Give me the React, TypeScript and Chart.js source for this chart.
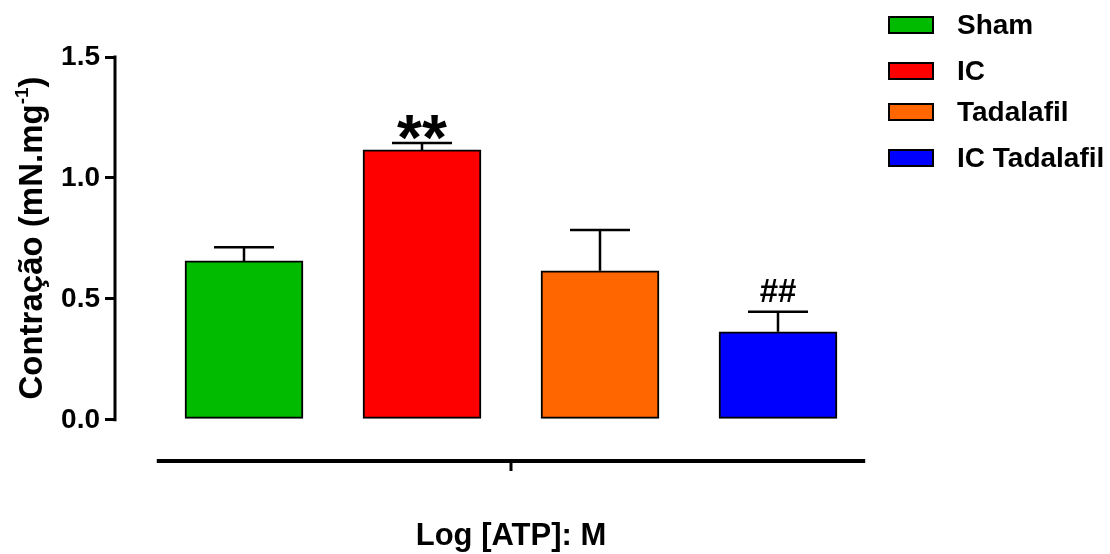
import React, { useEffect, useRef } from "react";
import { Chart, registerables } from "chart.js";

Chart.register(...registerables);

const categories = ["Sham", "IC", "Tadalafil", "IC Tadalafil"];
const means = [0.657, 1.116, 0.616, 0.364];
const sems = [0.057, 0.029, 0.169, 0.083];
const colors = ["#00BB00", "#FF0000", "#FF6600", "#0000FF"];
const annotations = ["", "**", "", "##"];
const yTicks = [0, 0.5, 1.0, 1.5];
const yTitle = "Contração (mN.mg";
const ySup = "-1";
const xTitle = "Log [ATP]: M";

const FONT = "'Liberation Sans', Arial, Helvetica, sans-serif";

const prismPlugin = {
  id: "prism",
  afterDatasetsDraw(chart: any) {
    const ctx = chart.ctx;
    const y = chart.scales.y;
    const meta = chart.getDatasetMeta(0);
    ctx.save();
    ctx.strokeStyle = "#000";
    ctx.fillStyle = "#000";
    ctx.lineWidth = 2.5;
    meta.data.forEach((bar: any, i: number) => {
      const cx = bar.x;
      const top = y.getPixelForValue(means[i]);
      const et = y.getPixelForValue(means[i] + sems[i]);
      ctx.beginPath();
      ctx.moveTo(cx, top);
      ctx.lineTo(cx, et);
      ctx.moveTo(cx - 30, et);
      ctx.lineTo(cx + 30, et);
      ctx.stroke();
      const a = annotations[i];
      if (a) {
        ctx.textAlign = "center";
        ctx.textBaseline = "alphabetic";
        const star = a === "**";
        ctx.font = star ? `bold 64px ${FONT}` : `bold 33px ${FONT}`;
        const m = ctx.measureText(a);
        const targetBottom = star ? et - 3 : et - 10;
        ctx.fillText(a, cx, targetBottom - m.actualBoundingBoxDescent);
      }
    });
    ctx.restore();
  },
  afterDraw(chart: any) {
    const ctx = chart.ctx;
    const x = chart.scales.x;
    const y = chart.scales.y;
    const area = chart.chartArea;
    ctx.save();
    ctx.strokeStyle = "#000";
    ctx.fillStyle = "#000";
    // y axis line
    ctx.lineWidth = 3;
    ctx.beginPath();
    ctx.moveTo(area.left, y.getPixelForValue(yTicks[0]) + 1.5);
    ctx.lineTo(area.left, y.getPixelForValue(yTicks[yTicks.length - 1]) - 1.5);
    ctx.stroke();
    // x axis line
    const xb = area.bottom;
    ctx.lineWidth = 4;
    ctx.beginPath();
    ctx.moveTo(x.getPixelForValue(-0.49), xb);
    ctx.lineTo(x.getPixelForValue(3.49), xb);
    ctx.stroke();
    ctx.lineWidth = 3;
    ctx.beginPath();
    const mid = x.getPixelForValue((categories.length - 1) / 2);
    ctx.moveTo(mid, xb);
    ctx.lineTo(mid, xb + 10);
    ctx.stroke();
    // x title
    ctx.font = `bold 31px ${FONT}`;
    ctx.textAlign = "center";
    ctx.textBaseline = "alphabetic";
    ctx.fillText(xTitle, mid, 545);
    // y title with superscript
    ctx.save();
    ctx.translate(42, 238);
    ctx.rotate(-Math.PI / 2);
    ctx.font = `bold 33px ${FONT}`;
    const w1 = ctx.measureText(yTitle).width;
    ctx.font = `bold 19px ${FONT}`;
    const w2 = ctx.measureText(ySup).width;
    ctx.font = `bold 33px ${FONT}`;
    const w3 = ctx.measureText(")").width;
    let sx = -(w1 + w2 + w3) / 2;
    ctx.textAlign = "left";
    ctx.textBaseline = "alphabetic";
    ctx.fillText(yTitle, sx, 0);
    sx += w1;
    ctx.font = `bold 19px ${FONT}`;
    ctx.fillText(ySup, sx, -14);
    sx += w2;
    ctx.font = `bold 33px ${FONT}`;
    ctx.fillText(")", sx, 0);
    ctx.restore();
    // legend
    const rows = [25, 71, 112, 158];
    categories.forEach((c, i) => {
      const cy = rows[i];
      ctx.fillStyle = colors[i];
      ctx.fillRect(889, cy - 8, 44, 16);
      ctx.lineWidth = 2;
      ctx.strokeStyle = "#000";
      ctx.strokeRect(889, cy - 8, 44, 16);
      ctx.fillStyle = "#000";
      ctx.font = `bold 28px ${FONT}`;
      ctx.textAlign = "left";
      ctx.textBaseline = "middle";
      ctx.fillText(c, 957, cy + 1);
    });
    ctx.restore();
  },
};

export default function App() {
  const ref = useRef<HTMLCanvasElement | null>(null);
  useEffect(() => {
    if (!ref.current) return;
    const chart = new Chart(ref.current, {
      type: "bar",
      data: {
        datasets: [
          {
            label: "Contração",
            data: means.map((m, i) => ({ x: i, y: m })) as any,
            backgroundColor: colors,
            borderColor: "#000",
            borderWidth: 2,
            borderSkipped: false,
            barThickness: 118,
          },
        ],
      },
      options: {
        responsive: false,
        animation: false,
        events: [],
        layout: { padding: { left: 0, top: 57, right: 243, bottom: 93 } },
        plugins: { legend: { display: false }, tooltip: { enabled: false } },
        scales: {
          x: {
            type: "linear",
            display: false,
            offset: false,
            grid: { offset: false },
            min: -0.7247,
            max: 3.5,
          },
          y: {
            min: -0.17,
            max: 1.5,
            afterBuildTicks: (scale: any) => {
              scale.ticks = yTicks.map((v) => ({ value: v }));
            },
            afterFit: (scale: any) => {
              scale.width = 115;
            },
            border: { display: false },
            grid: {
              drawOnChartArea: false,
              drawTicks: true,
              tickLength: 10,
              color: "#000",
              lineWidth: 3,
            },
            ticks: {
              color: "#000",
              padding: 5,
              font: { family: FONT, size: 28, weight: "bold" },
              callback: (v: any) => Number(v).toFixed(1),
            },
          },
        },
      },
      plugins: [prismPlugin],
    });
    return () => chart.destroy();
  }, []);
  return (
    <div style={{ position: "fixed", left: 0, top: 0, width: 1110, height: 554, background: "#fff" }}>
      <canvas ref={ref} width={1110} height={554} style={{ display: "block" }} />
    </div>
  );
}
